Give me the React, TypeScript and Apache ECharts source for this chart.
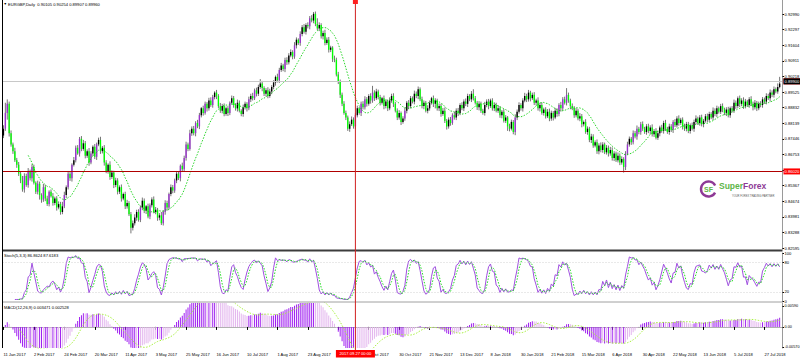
import React, { useEffect, useRef } from "react";
import * as echarts from "echarts";

// ---- data (prices in 1/10000 units) ----
const firstOpen = 8760;
const closes = [
  8790, 8860, 8900, 8770, 8720, 8690, 8650, 8630, 8590, 8560,
  8520, 8580, 8540, 8600, 8570, 8620, 8550, 8510, 8545, 8495,
  8475, 8530, 8480, 8455, 8510, 8490, 8460, 8480, 8440, 8455,
  8420, 8445, 8495, 8530, 8590, 8570, 8630, 8650, 8705, 8680,
  8745, 8700, 8725, 8670, 8690, 8640, 8680, 8710, 8665, 8720,
  8740, 8690, 8705, 8640, 8600, 8630, 8575, 8595, 8540, 8560,
  8510, 8530, 8480, 8500, 8445, 8460, 8410, 8350, 8370, 8395,
  8420, 8385, 8440, 8470, 8425, 8445, 8400, 8450, 8475, 8420,
  8430, 8395, 8405, 8370, 8420, 8460, 8440, 8500, 8530, 8515,
  8560, 8590, 8570, 8625, 8610, 8660, 8720, 8700, 8770, 8790,
  8770, 8815, 8800, 8850, 8880, 8860, 8900, 8880, 8915, 8895,
  8930, 8950, 8935, 8890, 8870, 8890, 8855, 8880, 8860, 8905,
  8925, 8895, 8880, 8905, 8870, 8855, 8885, 8900, 8880, 8920,
  8935, 8925, 8960, 8945, 8975, 8990, 8970, 8945, 8960, 8935,
  8955, 8975, 8995, 9020, 9005, 9050, 9070, 9055, 9095, 9085,
  9115, 9130, 9110, 9160, 9185, 9170, 9210, 9240, 9220, 9250,
  9245, 9280, 9270, 9300, 9255, 9235, 9250, 9200, 9215, 9170,
  9185, 9140, 9150, 9100, 9095, 9030, 9000, 8940, 8900, 8860,
  8840, 8790, 8810, 8830, 8800, 8850, 8880, 8860, 8900, 8885,
  8920, 8900, 8935, 8915, 8950, 8925, 8955, 8930, 8905, 8925,
  8890, 8910, 8880, 8915, 8935, 8900, 8870, 8840, 8860, 8820,
  8835, 8870, 8905, 8890, 8925, 8910, 8945, 8935, 8965, 8920,
  8890, 8905, 8870, 8880, 8905, 8925, 8900, 8915, 8880, 8890,
  8855, 8870, 8825, 8800, 8830, 8815, 8850, 8840, 8870, 8860,
  8895, 8880, 8910, 8900, 8935, 8920, 8945, 8925, 8905, 8885,
  8900, 8870, 8860, 8895, 8910, 8890, 8915, 8880, 8895, 8870,
  8880, 8850, 8865, 8825, 8840, 8800, 8790, 8820, 8775, 8840,
  8865, 8895, 8880, 8915, 8935, 8920, 8950, 8925, 8940, 8905,
  8915, 8880, 8895, 8860, 8875, 8845, 8865, 8835, 8860, 8840,
  8870, 8855, 8895, 8880, 8920, 8905, 8940, 8915, 8890, 8880,
  8850, 8870, 8835, 8845, 8810, 8820, 8775, 8790, 8740, 8755,
  8715, 8730, 8690, 8715, 8695, 8720, 8685, 8705, 8680, 8695,
  8660, 8680, 8650, 8670, 8640, 8655, 8620, 8680, 8720, 8745,
  8730, 8770, 8755, 8790, 8775, 8810, 8790, 8775, 8800, 8780,
  8795, 8765, 8780, 8750, 8770, 8795, 8780, 8815, 8790, 8775,
  8800, 8785, 8820, 8805, 8835, 8815, 8830, 8800, 8790, 8810,
  8780, 8805, 8790, 8820, 8835, 8815, 8840, 8810, 8825, 8845,
  8830, 8855, 8840, 8870, 8855, 8880, 8865, 8890, 8875, 8860,
  8875, 8850, 8880, 8870, 8905, 8890, 8925, 8900, 8915, 8890,
  8910, 8895, 8920, 8900, 8885, 8905, 8880, 8900, 8895, 8920,
  8910, 8935, 8925, 8950, 8940, 8965, 8955, 8975, 8990,
];
const wickUp = [
  15, 45, 20, 10, 12, 8, 15, 10, 12, 8,
  20, 12, 10, 15, 8, 12, 10, 6, 14, 10,
  8, 15, 10, 12, 6, 10, 14, 8, 10, 12,
  10, 20, 15, 8, 12, 10, 6, 14, 10, 12,
  8, 12, 15, 10, 8, 14, 10, 6, 12, 8,
  10, 14, 8, 12, 10, 6, 15, 10, 8, 12,
  10, 8, 12, 6, 10, 14, 8, 10, 12, 15,
  10, 12, 8, 14, 10, 6, 12, 8, 10, 14,
  12, 8, 10, 15, 8, 12, 10, 6, 12, 10,
  8, 12, 10, 6, 14, 10, 12, 8, 15, 10,
  12, 8, 14, 10, 6, 12, 10, 8, 12, 14,
  10, 6, 12, 8, 14, 10, 12, 8, 10, 6,
  12, 10, 8, 14, 10, 6, 12, 10, 8, 12,
  10, 14, 8, 12, 10, 20, 12, 8, 10, 14,
  12, 8, 10, 6, 14, 10, 12, 8, 10, 12,
  10, 12, 8, 14, 10, 6, 12, 10, 14, 8,
  12, 10, 14, 8, 10, 25, 12, 8, 10, 14,
  10, 12, 8, 6, 14, 10, 12, 8, 10, 12,
  10, 8, 12, 14, 10, 8, 12, 6, 10, 12,
  14, 10, 8, 12, 30, 10, 12, 8, 10, 6,
  12, 10, 8, 14, 10, 12, 8, 10, 12, 6,
  10, 14, 8, 12, 10, 8, 14, 10, 12, 8,
  12, 10, 8, 14, 10, 6, 12, 10, 8, 12,
  10, 12, 14, 8, 10, 12, 8, 14, 10, 12,
  8, 12, 10, 14, 10, 8, 12, 20, 10, 8,
  12, 10, 8, 14, 10, 12, 8, 10, 12, 10,
  14, 10, 8, 12, 10, 6, 12, 10, 8, 14,
  10, 12, 8, 10, 14, 10, 12, 8, 10, 12,
  8, 14, 10, 12, 8, 10, 12, 14, 10, 8,
  12, 10, 8, 14, 10, 12, 30, 10, 8, 12,
  10, 12, 8, 14, 10, 6, 12, 10, 8, 12,
  10, 8, 12, 10, 14, 10, 8, 12, 10, 14,
  12, 10, 8, 14, 10, 12, 8, 10, 12, 10,
  8, 12, 10, 14, 8, 10, 12, 8, 10, 12,
  10, 14, 8, 12, 10, 8, 12, 10, 14, 8,
  12, 10, 8, 12, 10, 14, 8, 10, 12, 10,
  10, 8, 12, 10, 14, 8, 10, 12, 8, 10,
  12, 10, 8, 14, 10, 12, 8, 10, 12, 8,
  10, 12, 8, 10, 14, 10, 8, 12, 10, 14,
  12, 8, 10, 14, 10, 12, 8, 10, 12, 10,
  8, 12, 10, 14, 10, 12, 8, 16, 30,
];
const wickDn = [
  12, 10, 30, 15, 10, 12, 8, 14, 10, 12,
  10, 14, 8, 12, 10, 15, 8, 10, 12, 20,
  14, 10, 12, 8, 10, 6, 12, 10, 14, 8,
  12, 10, 8, 14, 10, 12, 15, 8, 10, 6,
  14, 10, 8, 12, 10, 15, 8, 12, 10, 14,
  8, 12, 10, 14, 8, 10, 12, 8, 14, 10,
  12, 10, 14, 8, 12, 10, 8, 25, 12, 10,
  14, 8, 10, 12, 10, 14, 8, 12, 10, 6,
  10, 14, 12, 8, 10, 12, 14, 8, 10, 12,
  10, 12, 8, 14, 10, 8, 12, 10, 8, 12,
  10, 14, 8, 12, 10, 12, 8, 14, 10, 8,
  12, 10, 14, 8, 10, 12, 10, 8, 14, 10,
  8, 12, 10, 14, 8, 10, 12, 10, 14, 8,
  12, 10, 8, 12, 10, 8, 14, 10, 12, 10,
  8, 12, 10, 14, 10, 12, 8, 10, 14, 12,
  10, 8, 12, 10, 14, 8, 12, 10, 8, 12,
  10, 14, 8, 12, 10, 8, 12, 10, 14, 10,
  8, 12, 10, 14, 10, 8, 12, 14, 10, 8,
  12, 10, 14, 8, 10, 12, 10, 8, 14, 10,
  10, 12, 8, 14, 10, 12, 8, 10, 12, 8,
  14, 10, 12, 8, 10, 14, 8, 12, 10, 14,
  8, 10, 12, 14, 10, 8, 12, 10, 14, 8,
  10, 14, 8, 12, 10, 8, 14, 20, 10, 12,
  12, 8, 10, 14, 10, 12, 8, 10, 12, 14,
  10, 8, 12, 10, 14, 8, 12, 10, 8, 12,
  14, 10, 8, 12, 10, 14, 8, 10, 12, 8,
  10, 12, 14, 8, 10, 20, 12, 8, 10, 14,
  12, 8, 10, 14, 8, 12, 10, 14, 8, 10,
  12, 10, 14, 8, 12, 10, 8, 12, 10, 14,
  8, 12, 10, 14, 10, 8, 12, 10, 14, 8,
  12, 10, 8, 12, 14, 10, 8, 12, 10, 14,
  10, 8, 12, 14, 10, 12, 8, 10, 14, 10,
  12, 14, 8, 10, 12, 10, 25, 14, 8, 10,
  12, 10, 8, 14, 10, 12, 10, 8, 12, 10,
  14, 10, 12, 8, 10, 14, 8, 12, 10, 8,
  12, 10, 14, 8, 10, 12, 8, 14, 10, 12,
  10, 12, 8, 14, 10, 8, 12, 10, 14, 8,
  12, 10, 8, 12, 10, 14, 8, 10, 12, 10,
  14, 10, 12, 8, 10, 12, 8, 14, 10, 12,
  10, 8, 12, 10, 14, 10, 12, 8, 10, 12,
  10, 12, 8, 14, 10, 12, 8, 10, 6,
];
const priceTicks = [
  0.9299, 0.92297, 0.91604, 0.90911, 0.90218, 0.89525, 0.88832, 0.88139,
  0.87446, 0.86753, 0.8606, 0.85367, 0.84674, 0.83981, 0.83288, 0.82595,
];
const levelLines = [0.9028, 0.8602];
const stochTicks = [100, 80, 20, 0];
const stochLevels = [20, 80];
const macdTicks = [0.0059, 0, -0.0057];
const startDay = "2017-01-11";
const closedDays = ["2017-12-25", "2018-01-01"];
const crossDay = "2017-09-27";
const crossText = "2017.09.27 00:00";
const monthNames = ["Jan", "Feb", "Mar", "Apr", "May", "Jun", "Jul", "Aug", "Sep", "Oct", "Nov", "Dec"];
const titleText = "EURGBP,Daily  0.90105 0.90254 0.89907 0.89960";
const stochText = "Stoch(5,3,3) 86.8624 87.6183";
const macdText = "MACD(12,26,9) 0.003471 0.002528";
const maPeriod = 14;

const FONT = "Liberation Sans";
const FS = 4.1;
const LIME = "#00FF00";
const PURPLE = "#9932CC";
const LABEL_EVERY = 16;

function buildDays(n: number): string[] {
  const out: string[] = [];
  const d = new Date(startDay + "T00:00:00Z");
  while (out.length < n) {
    const wd = d.getUTCDay();
    const iso = d.toISOString().slice(0, 10);
    if (wd !== 0 && wd !== 6 && !closedDays.includes(iso)) out.push(iso);
    d.setUTCDate(d.getUTCDate() + 1);
  }
  return out;
}

function fmtDay(iso: string): string {
  if (!iso) return "";
  const [y, m, d] = iso.split("-");
  return `${parseInt(d, 10)} ${monthNames[parseInt(m, 10) - 1]} ${y}`;
}

export default function App() {
  const ref = useRef<HTMLDivElement>(null);
  useEffect(() => {
    const el = ref.current!;
    const chart = echarts.init(el, null, { renderer: "svg" });
    const n = closes.length;
    const days = buildDays(n + 1);
    const crossIdx = days.indexOf(crossDay);

    const opens: number[] = [];
    const highs: number[] = [];
    const lows: number[] = [];
    for (let i = 0; i < n; i++) {
      const o = i === 0 ? firstOpen : closes[i - 1];
      const c = closes[i];
      opens.push(o / 10000);
      highs.push((Math.max(o, c) + (wickUp[i] ?? 0)) / 10000);
      lows.push((Math.min(o, c) - (wickDn[i] ?? 0)) / 10000);
    }
    const cl = closes.map((c) => c / 10000);
    const candleData = cl.map((c, i) => [i, opens[i], c, lows[i], highs[i]]);

    const ma: (number | null)[] = cl.map((_, i) => {
      if (i < maPeriod - 1) return null;
      let s = 0;
      for (let j = i - maPeriod + 1; j <= i; j++) s += cl[j];
      return s / maPeriod;
    });

    // Stochastic 5,3,3
    const kP = 5, slow = 3, dP = 3;
    const num: (number | null)[] = [];
    const den: (number | null)[] = [];
    for (let i = 0; i < n; i++) {
      if (i < kP - 1) { num.push(null); den.push(null); continue; }
      let hh = -Infinity, ll = Infinity;
      for (let j = i - kP + 1; j <= i; j++) { hh = Math.max(hh, highs[j]); ll = Math.min(ll, lows[j]); }
      num.push(cl[i] - ll);
      den.push(hh - ll);
    }
    const stMain: (number | null)[] = [];
    for (let i = 0; i < n; i++) {
      if (i < kP - 1 + slow - 1) { stMain.push(null); continue; }
      let a = 0, b = 0;
      for (let j = i - slow + 1; j <= i; j++) { a += num[j] as number; b += den[j] as number; }
      stMain.push(b === 0 ? 100 : (100 * a) / b);
    }
    const stSig: (number | null)[] = stMain.map((_, i) => {
      if (i < kP - 1 + slow - 1 + dP - 1) return null;
      let s = 0;
      for (let j = i - dP + 1; j <= i; j++) s += stMain[j] as number;
      return s / dP;
    });

    // MACD 12,26,9
    const ema = (p: number) => {
      const k = 2 / (p + 1);
      const out: number[] = [];
      cl.forEach((c, i) => out.push(i === 0 ? c : out[i - 1] + k * (c - out[i - 1])));
      return out;
    };
    const e12 = ema(12), e26 = ema(26);
    const macd = cl.map((_, i) => e12[i] - e26[i]);
    const macdSig: (number | null)[] = macd.map((_, i) => {
      if (i < 8) return null;
      let s = 0;
      for (let j = i - 8; j <= i; j++) s += macd[j];
      return s / 9;
    });
    const macdBars = macd.map((v, i) => {
      const prev = i > 0 ? macd[i - 1] : v;
      const growing = Math.abs(v) >= Math.abs(prev);
      return { value: v, itemStyle: { color: growing ? "#A020F0" : "#E3B5EE" } };
    });

    const lastClose = cl[n - 1];

    const gridCommon = { left: 2.5, width: 780, outerBoundsMode: "none" } as any;
    const hiddenX = (gi: number) => ({
      type: "category", gridIndex: gi, data: days, boundaryGap: true,
      axisLine: { show: false }, axisTick: { show: false }, axisLabel: { show: false }, splitLine: { show: false },
    });
    const rightAxisLine = { show: true, lineStyle: { color: "#9a9a9a", width: 1 } };
    const rightLabel = { fontSize: FS, fontFamily: FONT, color: "#000", margin: 2 };

    const option: any = {
      animation: false,
      backgroundColor: "#ffffff",
      textStyle: { fontFamily: FONT },
      grid: [
        { ...gridCommon, top: 0, height: 249 },
        { ...gridCommon, top: 253, height: 48.5 },
        { ...gridCommon, top: 303, height: 45 },
      ],
      xAxis: [
        hiddenX(0),
        hiddenX(1),
        {
          type: "category", gridIndex: 2, data: days, boundaryGap: true,
          axisLine: { show: true, lineStyle: { color: "#b0b0b0" } },
          axisTick: { show: true, interval: LABEL_EVERY - 1, length: 3, alignWithLabel: true, lineStyle: { color: "#000" } },
          axisLabel: {
            interval: LABEL_EVERY - 1, align: "left", fontSize: FS, fontFamily: FONT, color: "#000", margin: 4,
            formatter: (v: string, idx: number) =>
              Math.abs(idx - crossIdx) < LABEL_EVERY * 0.75 && idx < crossIdx ? "" : fmtDay(v),
          },
          splitLine: { show: false },
        },
      ],
      yAxis: [
        {
          type: "value", gridIndex: 0, position: "right", min: 0.82556, max: 0.93612, scale: true,
          axisLine: rightAxisLine,
          axisTick: { show: true, length: 1.5, customValues: priceTicks, lineStyle: { color: "#000" } },
          axisLabel: { ...rightLabel, customValues: priceTicks, formatter: (v: number) => v.toFixed(5) },
          splitLine: { show: false },
        },
        {
          type: "value", gridIndex: 1, position: "right", min: 0, max: 100,
          axisLine: rightAxisLine,
          axisTick: { show: true, length: 1.5, customValues: stochTicks, lineStyle: { color: "#000" } },
          axisLabel: { ...rightLabel, customValues: stochTicks },
          splitLine: { show: false },
        },
        {
          type: "value", gridIndex: 2, position: "right", min: -0.006, max: 0.0068,
          axisLine: rightAxisLine,
          axisTick: { show: true, length: 1.5, customValues: macdTicks, lineStyle: { color: "#000" } },
          axisLabel: {
            ...rightLabel, fontSize: 3.8, customValues: macdTicks,
            formatter: (v: number) => (v === 0 ? "0.00" : v.toFixed(5)),
          },
          splitLine: { show: false },
        },
      ],
      series: [
        {
          type: "custom", name: "EURGBP", xAxisIndex: 0, yAxisIndex: 0, clip: true,
          data: candleData,
          encode: { x: 0, y: [1, 2, 3, 4] },
          renderItem: (params: any, api: any) => {
            const idx = api.value(0);
            const o = api.value(1), c = api.value(2), l = api.value(3), h = api.value(4);
            const pH = api.coord([idx, h]);
            const pL = api.coord([idx, l]);
            const pO = api.coord([idx, o]);
            const pC = api.coord([idx, c]);
            const bw = api.size([1, 0])[0];
            const w = Math.max(1, bw * 0.72);
            const bull = c >= o;
            const big = bull && c - o > 0.0035;
            const fill = bull ? (big ? PURPLE : "#000000") : LIME;
            const top = Math.min(pO[1], pC[1]);
            const hgt = Math.max(1, Math.abs(pO[1] - pC[1]));
            return {
              type: "group",
              children: [
                { type: "line", shape: { x1: pH[0], y1: pH[1], x2: pL[0], y2: pL[1] }, style: { stroke: "#505050", lineWidth: 0.8 } },
                { type: "rect", shape: { x: pO[0] - w / 2, y: top, width: w, height: hgt }, style: { fill } },
              ],
            };
          },
          z: 3,
        },
        {
          type: "line", name: "MA", xAxisIndex: 0, yAxisIndex: 0, data: ma, showSymbol: false, symbol: "none",
          lineStyle: { color: "#10D010", width: 0.9, type: [1.5, 1.5] }, z: 4, silent: true,
          markLine: {
            silent: true, symbol: "none", animation: false,
            data: [
              ...levelLines.map((v) => ({
                yAxis: v,
                lineStyle: { color: "#B00000", width: 1, type: "solid" },
                label: {
                  show: true, position: "end", distance: 1, formatter: () => v.toFixed(5), color: "#fff",
                  backgroundColor: "#FF0000", padding: [1, 1, 1, 1], fontSize: FS, fontFamily: FONT,
                },
              })),
              {
                yAxis: lastClose,
                lineStyle: { color: "#C8C8C8", width: 1, type: "solid" },
                label: {
                  show: true, position: "end", distance: 1, formatter: () => lastClose.toFixed(5), color: "#fff",
                  backgroundColor: "#000", padding: [1, 1, 1, 1], fontSize: FS, fontFamily: FONT,
                },
              },
            ],
          },
        },
        {
          type: "line", name: "StochMain", xAxisIndex: 1, yAxisIndex: 1, data: stMain, showSymbol: false, symbol: "none",
          lineStyle: { color: "#A050E0", width: 1 }, silent: true, z: 3,
          markLine: {
            silent: true, symbol: "none",
            data: stochLevels.map((v) => ({ yAxis: v })),
            lineStyle: { color: "#C8C8C8", width: 0.8, type: [1, 2] },
            label: { show: false },
          },
        },
        {
          type: "line", name: "StochSignal", xAxisIndex: 1, yAxisIndex: 1, data: stSig, showSymbol: false, symbol: "none",
          lineStyle: { color: "#22DD22", width: 1, type: [1.5, 1.5] }, silent: true, z: 4,
        },
        {
          type: "bar", name: "MACD", xAxisIndex: 2, yAxisIndex: 2, data: macdBars, barWidth: 1, silent: true,
        },
        {
          type: "line", name: "Signal", xAxisIndex: 2, yAxisIndex: 2, data: macdSig, showSymbol: false, symbol: "none",
          lineStyle: { color: "#A8F040", width: 1, type: [1.5, 1.5] }, silent: true, z: 4,
        },
      ],
    };
    chart.setOption(option);

    const cx = chart.convertToPixel({ xAxisIndex: 0 }, crossIdx) as number;
    const txt = (x: number, y: number, text: string, extra: any = {}) => ({
      type: "text", x, y, silent: true, z: 20,
      style: { text, fill: "#000", fontSize: FS, fontFamily: FONT, ...extra },
    });
    chart.setOption({
      graphic: [
        { type: "rect", shape: { x: 2, y: 249.5, width: 780.5, height: 2 }, style: { fill: "#3c3c3c" }, silent: true, z: 10 },
        { type: "line", shape: { x1: 2, y1: 302, x2: 782.5, y2: 302 }, style: { stroke: "#a0a0a0", lineWidth: 1 }, silent: true, z: 10 },
        { type: "line", shape: { x1: 2.5, y1: 0, x2: 2.5, y2: 348 }, style: { stroke: "#000", lineWidth: 1 }, silent: true, z: 10 },
        txt(3.5, 2, "▼", { fontSize: 3.5 }),
        txt(8, 2, titleText),
        txt(4, 253.5, stochText),
        txt(4, 305, macdText),
        { type: "line", shape: { x1: cx, y1: 0, x2: cx, y2: 350 }, style: { stroke: "#D02020", lineWidth: 1 }, silent: true, z: 15 },
        { type: "rect", shape: { x: cx - 2.5, y: 0, width: 5, height: 4 }, style: { fill: "#FF2020" }, silent: true, z: 16 },
        { type: "rect", shape: { x: cx - 19.5, y: 350, width: 39, height: 7.5 }, style: { fill: "#FF0000" }, silent: true, z: 16 },
        txt(cx, 353.75, crossText, { fill: "#fff", align: "center", verticalAlign: "middle" }),
        { type: "arc", shape: { cx: 708.5, cy: 189, r: 7.5, startAngle: 0.5, endAngle: 5.8 }, style: { stroke: "#8E3A96", lineWidth: 2.4, fill: "none" }, silent: true, z: 12 },
        txt(708.5, 189, "SF", { fill: "#5DB548", fontSize: 7, fontWeight: "bold", align: "center", verticalAlign: "middle" }),
        {
          type: "text", x: 719, y: 186, silent: true, z: 12,
          style: {
            text: "{a|Super}{b|Forex}", fontFamily: FONT, fontSize: 8, fontWeight: "bold", verticalAlign: "middle",
            rich: {
              a: { fill: "#5DB548", fontSize: 8.5, fontWeight: "bold", fontFamily: FONT },
              b: { fill: "#8E3A96", fontSize: 8.5, fontWeight: "bold", fontFamily: FONT },
            },
          },
        },
        txt(732, 194.5, "YOUR FOREX TRADING PARTNER", { fill: "#555", fontSize: 2.6 }),
      ],
    });
    return () => chart.dispose();
  }, []);
  return <div ref={ref} style={{ position: "fixed", left: 0, top: 0, width: 800, height: 360 }} />;
}
